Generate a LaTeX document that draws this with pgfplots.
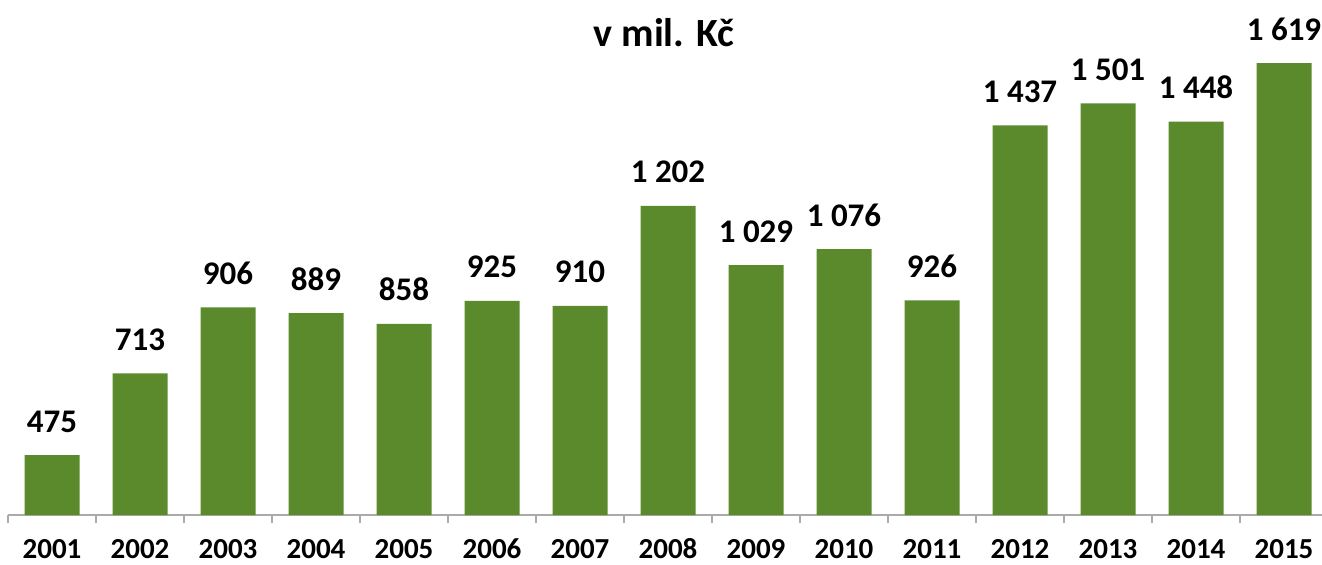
\documentclass[border=0pt]{standalone}
\usepackage{pgfplots}
\pgfplotsset{compat=1.18}
\usepackage{fontspec}
\setmainfont{Carlito}
\definecolor{barg}{RGB}{91,138,44}
\definecolor{axg}{RGB}{170,170,170}
\begin{document}
\begin{tikzpicture}
\useasboundingbox (-4pt,-24.5pt) rectangle (657pt,257.5pt);
\clip (-4pt,-24.5pt) rectangle (657pt,257.5pt);
\begin{axis}[
  at={(0pt,0pt)}, anchor=south west,
  scale only axis, width=660pt, height=257pt,
  xmin=-0.5, xmax=14.5, ymin=300, ymax=1800,
  axis y line=none, axis x line*=bottom,
  x axis line style={-, draw=axg, line width=0.75pt},
  xtick={-0.5,0.5,...,14.5},
  xticklabels={},
  major tick length=4pt, tick align=outside,
  major tick style={draw=axg, line width=0.75pt},
  extra x ticks={0,...,14},
  extra x tick labels={2001,2002,2003,2004,2005,2006,2007,2008,2009,2010,2011,2012,2013,2014,2015},
  extra x tick style={major tick length=0pt},
  xticklabel style={font=\fontsize{14.5}{16}\selectfont\bfseries, anchor=base, inner sep=0pt, yshift=-21.5pt},
  ybar, bar width=27.5pt, bar shift=0pt,
  nodes near coords,
  every node near coord/.append style={font=\fontsize{16.5}{18}\selectfont\bfseries, anchor=base, inner sep=0pt, yshift=11.5pt, /pgf/number format/1000 sep={\ }, /pgf/number format/assume math mode=true},
]
\addplot[fill=barg, draw=none] coordinates {(0,475) (1,713) (2,906) (3,889) (4,858) (5,925) (6,910) (7,1202) (8,1029) (9,1076) (10,926) (11,1437) (12,1501) (13,1448) (14,1619)};
\end{axis}
\node[anchor=base, font=\fontsize{20}{22}\selectfont\bfseries] at (328pt,234.5pt) {v mil. Kč};
\end{tikzpicture}
\end{document}
